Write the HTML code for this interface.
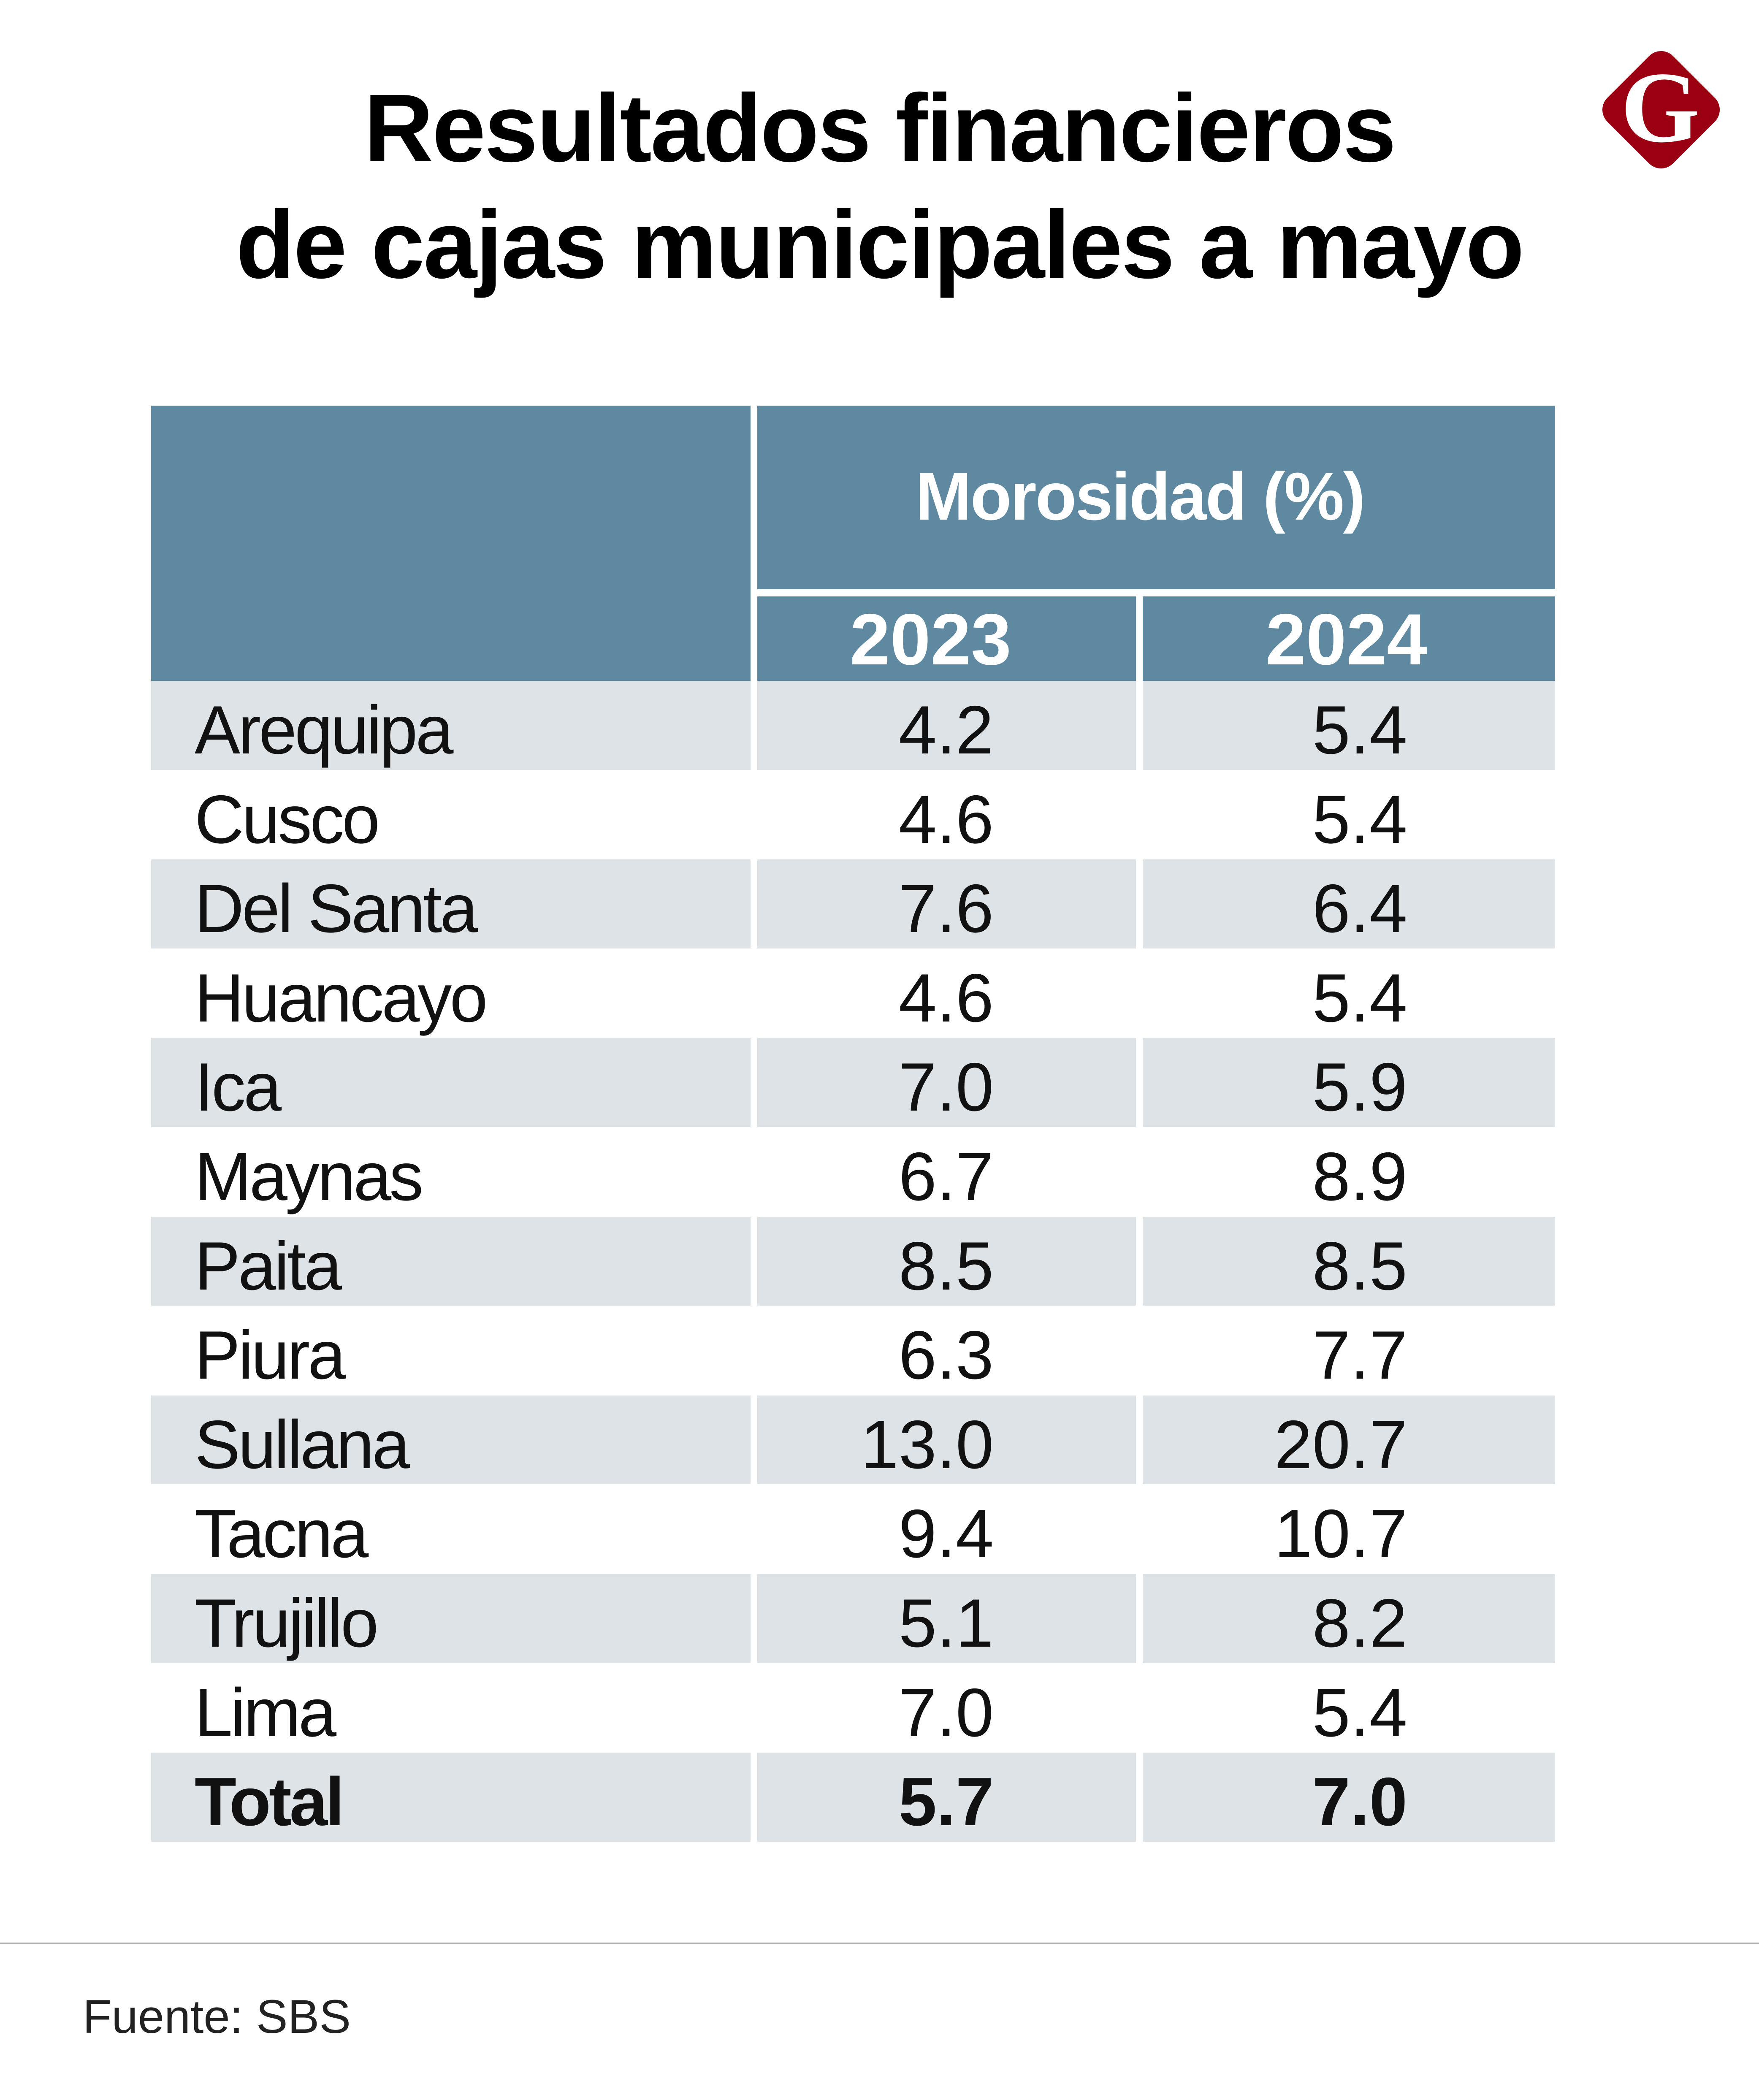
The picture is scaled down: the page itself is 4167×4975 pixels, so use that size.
<!DOCTYPE html>
<html><head><meta charset="utf-8"><style>
html,body{margin:0;padding:0;background:#fff}
body{width:4167px;height:4975px;position:relative;overflow:hidden;font-family:"Liberation Sans",sans-serif}
.abs{position:absolute}
.title{left:0;width:4167px;text-align:center;font-weight:bold;font-size:228px;color:#000;letter-spacing:-3px;line-height:1}
.cell{position:absolute;height:211px}
.txt{position:absolute;font-size:162px;color:#111;line-height:1;white-space:nowrap}
</style></head><body>
<div class="abs title" style="top:190px">Resultados financieros</div>
<div class="abs title" style="top:466px">de cajas municipales a mayo</div>
<svg class="abs" style="left:3770px;top:95px" width="330" height="330">
<rect x="55" y="55" width="220" height="220" rx="40" transform="rotate(45 165 165)" fill="#9a0012"/>
<text x="163" y="240" text-anchor="middle" font-family="Liberation Serif,serif" font-weight="bold" font-size="240" fill="#fff">G</text>
</svg>
<div class="abs" style="left:358px;top:961px;width:1420px;height:652px;background:#5e89a0"></div>
<div class="abs" style="left:1794px;top:961px;width:1812px;padding-right:78px;height:435px;background:#5e89a0;color:#fff;font-weight:bold;font-size:160px;text-align:center;line-height:430px;letter-spacing:-3px">Morosidad (%)</div>
<div class="abs" style="left:1794px;top:1413px;width:821px;padding-right:76px;height:200px;background:#5e89a0;color:#fff;font-weight:bold;font-size:172px;text-align:center;line-height:205px">2023</div>
<div class="abs" style="left:2707px;top:1413px;width:965px;padding-right:12px;height:200px;background:#5e89a0;color:#fff;font-weight:bold;font-size:172px;text-align:center;line-height:205px">2024</div>
<div id="rows"></div>
<div class="abs" style="left:0;top:4602px;width:4167px;height:3px;background:#b5b5b5"></div>
<div class="abs" style="left:196px;top:4722px;font-size:112px;color:#222;line-height:1">Fuente: SBS</div>
<script>
const names=["Arequipa","Cusco","Del Santa","Huancayo","Ica","Maynas","Paita","Piura","Sullana","Tacna","Trujillo","Lima","Total"];
const v2023=["4.2","4.6","7.6","4.6","7.0","6.7","8.5","6.3","13.0","9.4","5.1","7.0","5.7"];
const v2024=["5.4","5.4","6.4","5.4","5.9","8.9","8.5","7.7","20.7","10.7","8.2","5.4","7.0"];
const root=document.getElementById('rows');
const top0=1613,rh=211.6;
names.forEach((n,i)=>{
  const y=top0+i*rh;
  const bg=(i%2===0)?'#dde3e6':'#fff';
  const bold=(i===names.length-1);
  const cols=[[358,1420],[1794,897],[2707,977]];
  cols.forEach((c,j)=>{
    const d=document.createElement('div');
    d.className='cell';
    
    
    d.style.left=c[0]+'px';d.style.top=y+'px';d.style.width=c[1]+'px';d.style.height=(rh-1)+'px';d.style.background=bg;
    root.appendChild(d);
  });
  const t=document.createElement('div');
  t.className='txt';
  
  
  t.textContent=n;
  t.style.left='461px';t.style.top=(y+36)+'px';
  t.style.letterSpacing='-5px';
  if(bold)t.style.fontWeight='bold';
  root.appendChild(t);
  [[v2023[i],2354],[v2024[i],3334]].forEach(p=>{
    const v=document.createElement('div');
    v.className='txt';
    
    
    v.textContent=p[0];
    v.style.right=(4167-p[1])+'px';v.style.top=(y+36)+'px';
    if(bold)v.style.fontWeight='bold';
    root.appendChild(v);
  });
});
</script>
</body></html>
